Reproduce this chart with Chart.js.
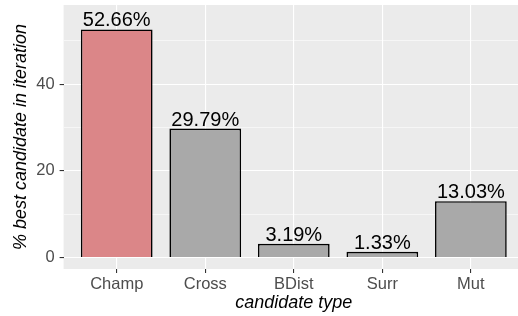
<!DOCTYPE html>
<html>
<head>
<meta charset="utf-8">
<script src="https://cdn.jsdelivr.net/npm/chart.js@4/dist/chart.umd.min.js"></script>
<style>
  html, body { margin: 0; padding: 0; background: #fff; overflow: hidden; }
  #wrap { width: 518px; height: 316px; overflow: hidden; }
</style>
</head>
<body>
<div id="wrap"><canvas id="grafico" width="530" height="316"></canvas></div>
<script>
// valores
const categorias = ['Champ', 'Cross', 'BDist', 'Surr', 'Mut'];
const percentuais = [52.66, 29.79, 3.19, 1.33, 13.03];
const coresBarras = ['#DB8688', '#A9A9A9', '#A9A9A9', '#A9A9A9', '#A9A9A9'];
const ticksY = [0, 10, 20, 30, 40, 50];
const ticksMaioresY = [0, 20, 40];

const fonte = '"Liberation Sans", Arial, Helvetica, sans-serif';

// fundo cinza do painel (estilo ggplot)
const painel = {
  id: 'painel',
  beforeDraw(chart) {
    const { ctx, chartArea: a } = chart;
    ctx.save();
    ctx.fillStyle = '#EBEBEB';
    ctx.fillRect(a.left, a.top, a.right - a.left, a.bottom - a.top);
    ctx.restore();
  }
};

// rotulos das barras e titulos dos eixos
const textos = {
  id: 'textos',
  afterDatasetsDraw(chart) {
    const ctx = chart.ctx;
    const meta = chart.getDatasetMeta(0);
    ctx.save();
    ctx.fillStyle = '#000';
    ctx.font = '20px ' + fonte;
    ctx.textAlign = 'center';
    ctx.textBaseline = 'alphabetic';
    meta.data.forEach((bar, i) => {
      ctx.fillText(percentuais[i].toFixed(2) + '%', bar.x, bar.y - 3);
    });

    const a = chart.chartArea;
    ctx.font = 'italic 18px ' + fonte;
    ctx.fillText('candidate type', (a.left + a.right) / 2, 308);

    ctx.translate(21, (a.top + a.bottom) / 2);
    ctx.rotate(-Math.PI / 2);
    ctx.textBaseline = 'middle';
    ctx.fillText('% best candidate in iteration', 0, 0);
    ctx.restore();
  }
};

new Chart(document.getElementById('grafico'), {
  type: 'bar',
  data: {
    datasets: [{
      data: percentuais.map((v, i) => ({ x: i, y: v })),
      backgroundColor: coresBarras,
      borderColor: '#000',
      borderWidth: 1.6,
      categoryPercentage: 0.9,
      barPercentage: 0.9
    }]
  },
  options: {
    responsive: false,
    animation: false,
    layout: { padding: { top: 5, right: 6, left: 0, bottom: 0 } },
    plugins: { legend: { display: false }, tooltip: { enabled: false } },
    scales: {
      x: {
        type: 'linear',
        offset: false,
        min: -0.6,
        max: categorias.length - 0.4,
        afterBuildTicks: s => { s.ticks = categorias.map((c, i) => ({ value: i })); },
        afterFit: s => { s.height = 47; s.paddingLeft = 0; s.paddingRight = 0; },
        border: { display: false },
        grid: { offset: false, color: '#FFFFFF', lineWidth: 1.1, tickColor: '#333333', tickLength: 4, tickWidth: 1.1 },
        ticks: {
          padding: 2,
          color: '#4D4D4D',
          font: { family: fonte, size: 16.5 },
          callback: v => categorias[v]
        }
      },
      y: {
        min: -2.63,
        max: 58.3,
        afterBuildTicks: s => { s.ticks = ticksY.map(v => ({ value: v })); },
        afterFit: s => { s.width = 63.6; s.paddingTop = 0; s.paddingBottom = 0; },
        border: { display: false },
        grid: {
          color: '#FFFFFF',
          lineWidth: c => ticksMaioresY.includes(c.tick.value) ? 1.1 : 0.55,
          tickColor: c => ticksMaioresY.includes(c.tick.value) ? '#333333' : 'rgba(0,0,0,0)',
          tickLength: 4,
          tickWidth: 1.1
        },
        ticks: {
          padding: 5,
          color: '#4D4D4D',
          font: { family: fonte, size: 16.5 },
          callback: v => ticksMaioresY.includes(v) ? String(v) : ''
        }
      }
    }
  },
  plugins: [painel, textos]
});
</script>
</body>
</html>
